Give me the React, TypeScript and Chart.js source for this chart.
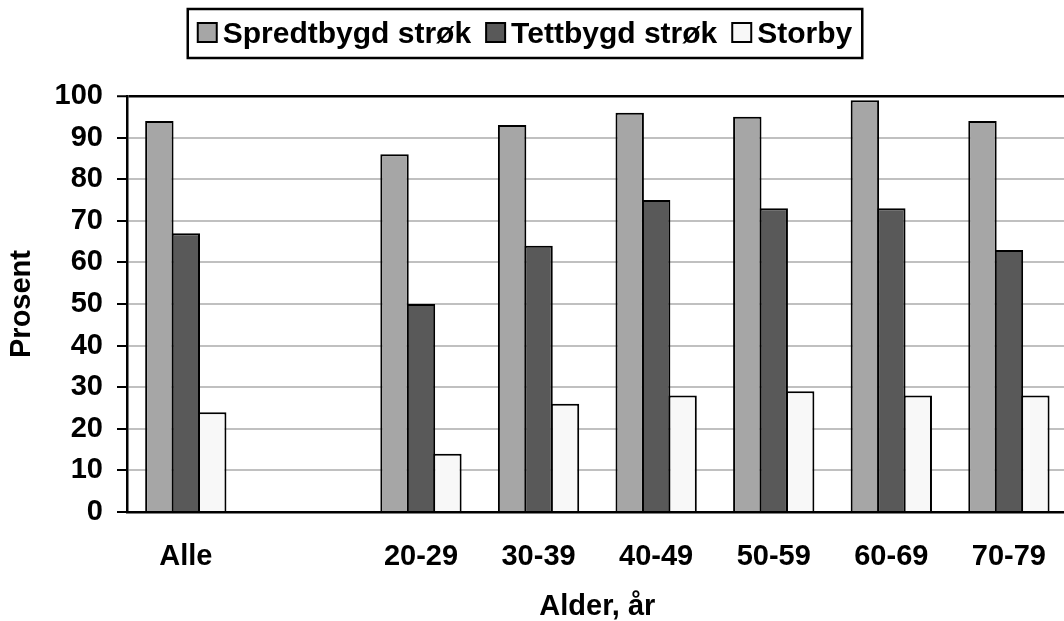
import React, { useEffect, useRef } from "react";
import { Chart, registerables } from "chart.js";

Chart.register(...registerables);

// Age groups (the blank slot separates the overall figure from the age bands)
const categories = ["Alle", "", "20-29", "30-39", "40-49", "50-59", "60-69", "70-79"];

// Share of respondents, percent
const spredtbygd = [94, null, 86, 93, 96, 95, 99, 94];
const tettbygd = [67, null, 50, 64, 75, 73, 73, 63];
const storby = [24, null, 14, 26, 28, 29, 28, 28];

const seriesNames = ["Spredtbygd strøk", "Tettbygd strøk", "Storby"];
const seriesColors = ["#a6a6a6", "#595959", "#f8f8f8"];

const yMin = 0;
const yMax = 100;
const yStep = 10;

const xTitle = "Alder, år";
const yTitle = "Prosent";

const FONT_FAMILY = '"Liberation Sans", Arial, Helvetica, sans-serif';
const FONT_SIZE = 29;
const LEGEND_FONT_SIZE = 30;

const CANVAS_W = 1074;
const CANVAS_H = 621;

// Legend drawn in a framed box above the plot
const boxedLegend = {
  id: "boxedLegend",
  afterDraw(chart: any) {
    const ctx: CanvasRenderingContext2D = chart.ctx;
    ctx.save();
    ctx.font = `bold ${LEGEND_FONT_SIZE}px ${FONT_FAMILY}`;
    const items = chart.data.datasets.map((ds: any) => ({
      label: ds.label as string,
      color: ds.backgroundColor as string,
      w: ctx.measureText(ds.label).width,
    }));
    const marker = 19;
    const gapText = 6;
    const gapItem = 15;
    const pad = 10;
    const contentW =
      items.reduce((s: number, it: any) => s + marker + gapText + it.w, 0) +
      gapItem * (items.length - 1);
    const boxW = contentW + pad * 2;
    const centerX = 525;
    const boxTop = 9;
    const boxH = 49;
    const boxLeft = centerX - boxW / 2;

    ctx.lineWidth = 2.5;
    ctx.strokeStyle = "#000";
    ctx.strokeRect(boxLeft, boxTop, boxW, boxH);

    let x = boxLeft + pad;
    const markerTop = 23;
    const baseline = 43;
    ctx.textBaseline = "alphabetic";
    ctx.textAlign = "left";
    for (const it of items) {
      ctx.fillStyle = it.color;
      ctx.fillRect(x, markerTop, marker, marker);
      ctx.lineWidth = 2;
      ctx.strokeStyle = "#000";
      ctx.strokeRect(x, markerTop, marker, marker);
      x += marker + gapText;
      ctx.fillStyle = "#000";
      ctx.fillText(it.label, x, baseline);
      x += it.w + gapItem;
    }
    ctx.restore();
  },
};

export default function App() {
  const canvasRef = useRef<HTMLCanvasElement | null>(null);

  useEffect(() => {
    if (!canvasRef.current) return;
    Chart.defaults.font.family = FONT_FAMILY;
    Chart.defaults.font.size = FONT_SIZE;
    Chart.defaults.font.weight = "bold";
    Chart.defaults.color = "#000";

    const seriesValues = [spredtbygd, tettbygd, storby];
    const chart = new Chart(canvasRef.current, {
      type: "bar",
      data: {
        labels: categories,
        datasets: seriesValues.map((values, i) => ({
          label: seriesNames[i],
          data: values,
          backgroundColor: seriesColors[i],
          borderColor: "#000",
          borderWidth: 2,
          categoryPercentage: 0.6745,
          barPercentage: 1.075,
        })),
      },
      options: {
        animation: false,
        responsive: false,
        maintainAspectRatio: false,
        layout: { padding: { top: 96, right: 0, bottom: 0, left: 0 } },
        plugins: {
          legend: { display: false },
          tooltip: { enabled: false },
        },
        scales: {
          x: {
            offset: true,
            grid: { display: false, drawTicks: false },
            border: { display: true, color: "#000", width: 2.5 },
            ticks: {
              padding: 28,
              font: { size: FONT_SIZE, weight: "bold" },
              color: "#000",
            },
            title: {
              display: true,
              text: xTitle,
              font: { size: FONT_SIZE, weight: "bold" },
              color: "#000",
              padding: { top: 0, bottom: -3 },
            },
            afterFit(scale: any) {
              scale.height = CANVAS_H - 512;
            },
          },
          y: {
            min: yMin,
            max: yMax,
            grid: {
              color: (c: any) => (c.tick && c.tick.value === yMax ? "#000" : "#c0c0c0"),
              lineWidth: (c: any) => (c.tick && c.tick.value === yMax ? 2.5 : 2),
              tickColor: "#000",
              tickLength: 10,
              tickWidth: 2,
            },
            border: { display: true, color: "#000", width: 2.5 },
            ticks: {
              stepSize: yStep,
              padding: 14,
              font: { size: FONT_SIZE, weight: "bold" },
              color: "#000",
            },
            title: {
              display: true,
              text: yTitle,
              font: { size: FONT_SIZE, weight: "bold" },
              color: "#000",
              padding: { top: 5, bottom: 0 },
            },
            afterFit(scale: any) {
              scale.width = 127;
            },
          },
        },
      },
      plugins: [boxedLegend],
    });
    return () => chart.destroy();
  }, []);

  return (
    <div
      style={{
        position: "fixed",
        left: 0,
        top: 0,
        width: 1064,
        height: 621,
        overflow: "hidden",
        background: "#fff",
      }}
    >
      <canvas ref={canvasRef} width={CANVAS_W} height={CANVAS_H} style={{ display: "block" }} />
    </div>
  );
}
